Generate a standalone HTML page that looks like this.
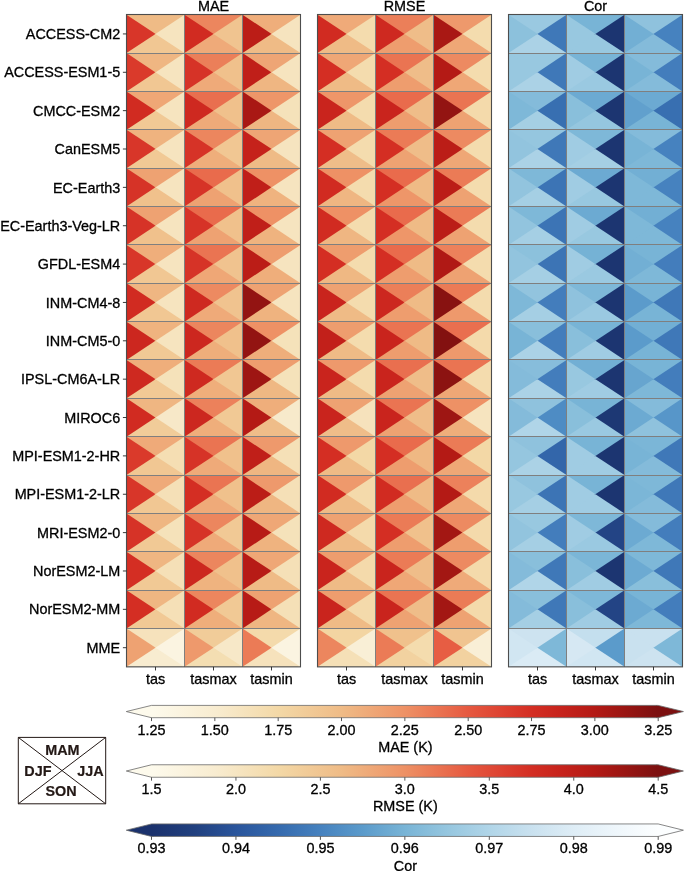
<!DOCTYPE html>
<html><head><meta charset="utf-8"><title>chart</title><style>svg text{stroke:#000;stroke-width:.3px}svg text.b{stroke:#231815;stroke-width:.2px}html,body{margin:0;padding:0;background:#fff}body{width:685px;height:871px;overflow:hidden}</style></head><body>
<svg width="685" height="871" viewBox="0 0 685 871" style="display:block;will-change:transform" font-family="Liberation Sans, sans-serif" font-size="14.4px" fill="#000">
<defs>
<linearGradient id="gr" x1="0" x2="1" y1="0" y2="0"><stop offset="0.0000" stop-color="#fdfaec"/><stop offset="0.1250" stop-color="#f8ecd0"/><stop offset="0.2500" stop-color="#f3d8a6"/><stop offset="0.3750" stop-color="#efbb86"/><stop offset="0.5000" stop-color="#ee9165"/><stop offset="0.6250" stop-color="#e65940"/><stop offset="0.6875" stop-color="#de4332"/><stop offset="0.7500" stop-color="#d42e23"/><stop offset="0.8125" stop-color="#c6221b"/><stop offset="0.8750" stop-color="#b41a15"/><stop offset="0.9375" stop-color="#991512"/><stop offset="1.0000" stop-color="#7c1010"/></linearGradient>
<linearGradient id="gb" x1="0" x2="1" y1="0" y2="0"><stop offset="0.0000" stop-color="#1b326d"/><stop offset="0.0833" stop-color="#21407f"/><stop offset="0.1667" stop-color="#2a559c"/><stop offset="0.2500" stop-color="#356aae"/><stop offset="0.3333" stop-color="#4682bf"/><stop offset="0.4167" stop-color="#5b9bcb"/><stop offset="0.5000" stop-color="#78b4d6"/><stop offset="0.5833" stop-color="#95c6df"/><stop offset="0.6667" stop-color="#b0d5e8"/><stop offset="0.7500" stop-color="#c9e1ef"/><stop offset="0.8333" stop-color="#deedf6"/><stop offset="0.9167" stop-color="#eef6fb"/><stop offset="1.0000" stop-color="#fcfeff"/></linearGradient>
</defs>
<rect width="685" height="871" fill="#fff"/>
<rect x="126.50" y="14.75" width="174.00" height="652.12" fill="#7f7f7f"/>
<g>
<path d="M126.50 14.75H128.31L157.31 33.93L128.31 53.11H126.50Z" fill="#d83629"/>
<path d="M126.50 14.75H184.50V15.95L156.41 34.53Z" fill="#efbb86"/>
<path d="M184.50 14.75V53.11H182.69L154.59 34.53Z" fill="#f6e4bf"/>
<path d="M126.50 53.11L155.50 33.93L184.50 53.11Z" fill="#f1c793"/>
<path d="M184.50 14.75H186.31L215.31 33.93L186.31 53.11H184.50Z" fill="#d12b21"/>
<path d="M184.50 14.75H242.50V15.95L214.41 34.53Z" fill="#ec865e"/>
<path d="M242.50 14.75V53.11H240.69L212.59 34.53Z" fill="#f0c490"/>
<path d="M184.50 53.11L213.50 33.93L242.50 53.11Z" fill="#efaa79"/>
<path d="M242.50 14.75H244.31L273.31 33.93L244.31 53.11H242.50Z" fill="#bb1d17"/>
<path d="M242.50 14.75H300.50V15.95L272.41 34.53Z" fill="#efae7b"/>
<path d="M300.50 14.75V53.11H298.69L270.59 34.53Z" fill="#f6e4bf"/>
<path d="M242.50 53.11L271.50 33.93L300.50 53.11Z" fill="#efbb86"/>
<path d="M126.50 53.11H128.31L157.31 72.29L128.31 91.47H126.50Z" fill="#da3a2b"/>
<path d="M126.50 53.11H184.50V54.31L156.41 72.89Z" fill="#efb682"/>
<path d="M184.50 53.11V91.47H182.69L154.59 72.89Z" fill="#f6e4bf"/>
<path d="M126.50 91.47L155.50 72.29L184.50 91.47Z" fill="#f1c793"/>
<path d="M184.50 53.11H186.31L215.31 72.29L186.31 91.47H184.50Z" fill="#d63327"/>
<path d="M184.50 53.11H242.50V54.31L214.41 72.89Z" fill="#eb7f59"/>
<path d="M242.50 53.11V91.47H240.69L212.59 72.89Z" fill="#f0c18c"/>
<path d="M184.50 91.47L213.50 72.29L242.50 91.47Z" fill="#efaa79"/>
<path d="M242.50 53.11H244.31L273.31 72.29L244.31 91.47H242.50Z" fill="#c01f19"/>
<path d="M242.50 53.11H300.50V54.31L272.41 72.89Z" fill="#eea575"/>
<path d="M300.50 53.11V91.47H298.69L270.59 72.89Z" fill="#f6e4bf"/>
<path d="M242.50 91.47L271.50 72.29L300.50 91.47Z" fill="#efb682"/>
<path d="M126.50 91.47H128.31L157.31 110.65L128.31 129.83H126.50Z" fill="#d12b21"/>
<path d="M126.50 91.47H184.50V92.67L156.41 111.25Z" fill="#efa776"/>
<path d="M184.50 91.47V129.83H182.69L154.59 111.25Z" fill="#f6e4bf"/>
<path d="M126.50 129.83L155.50 110.65L184.50 129.83Z" fill="#f1c995"/>
<path d="M184.50 91.47H186.31L215.31 110.65L186.31 129.83H184.50Z" fill="#ce2920"/>
<path d="M184.50 91.47H242.50V92.67L214.41 111.25Z" fill="#e96f4f"/>
<path d="M242.50 91.47V129.83H240.69L212.59 111.25Z" fill="#f0c18c"/>
<path d="M184.50 129.83L213.50 110.65L242.50 129.83Z" fill="#efaa79"/>
<path d="M242.50 91.47H244.31L273.31 110.65L244.31 129.83H242.50Z" fill="#a91814"/>
<path d="M242.50 91.47H300.50V92.67L272.41 111.25Z" fill="#ee9669"/>
<path d="M300.50 91.47V129.83H298.69L270.59 111.25Z" fill="#f5e2ba"/>
<path d="M242.50 129.83L271.50 110.65L300.50 129.83Z" fill="#efb682"/>
<path d="M126.50 129.83H128.31L157.31 149.01L128.31 168.19H126.50Z" fill="#d83629"/>
<path d="M126.50 129.83H184.50V131.03L156.41 149.61Z" fill="#efb37f"/>
<path d="M184.50 129.83V168.19H182.69L154.59 149.61Z" fill="#f6e4bf"/>
<path d="M126.50 168.19L155.50 149.01L184.50 168.19Z" fill="#f1c995"/>
<path d="M184.50 129.83H186.31L215.31 149.01L186.31 168.19H184.50Z" fill="#d63327"/>
<path d="M184.50 129.83H242.50V131.03L214.41 149.61Z" fill="#ec865e"/>
<path d="M242.50 129.83V168.19H240.69L212.59 149.61Z" fill="#f1c793"/>
<path d="M184.50 168.19L213.50 149.01L242.50 168.19Z" fill="#efae7b"/>
<path d="M242.50 129.83H244.31L273.31 149.01L244.31 168.19H242.50Z" fill="#c5221b"/>
<path d="M242.50 129.83H300.50V131.03L272.41 149.61Z" fill="#eea575"/>
<path d="M300.50 129.83V168.19H298.69L270.59 149.61Z" fill="#f6e4bf"/>
<path d="M242.50 168.19L271.50 149.01L300.50 168.19Z" fill="#efbb86"/>
<path d="M126.50 168.19H128.31L157.31 187.37L128.31 206.55H126.50Z" fill="#d63327"/>
<path d="M126.50 168.19H184.50V169.39L156.41 187.97Z" fill="#eea272"/>
<path d="M184.50 168.19V206.55H182.69L154.59 187.97Z" fill="#f6e4bf"/>
<path d="M126.50 206.55L155.50 187.37L184.50 206.55Z" fill="#f0c18c"/>
<path d="M184.50 168.19H186.31L215.31 187.37L186.31 206.55H184.50Z" fill="#d63327"/>
<path d="M184.50 168.19H242.50V169.39L214.41 187.97Z" fill="#e96b4c"/>
<path d="M242.50 168.19V206.55H240.69L212.59 187.97Z" fill="#f0c18c"/>
<path d="M184.50 206.55L213.50 187.37L242.50 206.55Z" fill="#eea272"/>
<path d="M242.50 168.19H244.31L273.31 187.37L244.31 206.55H242.50Z" fill="#c01f19"/>
<path d="M242.50 168.19H300.50V169.39L272.41 187.97Z" fill="#ee9165"/>
<path d="M300.50 168.19V206.55H298.69L270.59 187.97Z" fill="#f6e4bf"/>
<path d="M242.50 206.55L271.50 187.37L300.50 206.55Z" fill="#efb37f"/>
<path d="M126.50 206.55H128.31L157.31 225.73L128.31 244.91H126.50Z" fill="#d63327"/>
<path d="M126.50 206.55H184.50V207.75L156.41 226.33Z" fill="#eea272"/>
<path d="M184.50 206.55V244.91H182.69L154.59 226.33Z" fill="#f6e4bf"/>
<path d="M126.50 244.91L155.50 225.73L184.50 244.91Z" fill="#f0c18c"/>
<path d="M184.50 206.55H186.31L215.31 225.73L186.31 244.91H184.50Z" fill="#d63327"/>
<path d="M184.50 206.55H242.50V207.75L214.41 226.33Z" fill="#e96b4c"/>
<path d="M242.50 206.55V244.91H240.69L212.59 226.33Z" fill="#f0c18c"/>
<path d="M184.50 244.91L213.50 225.73L242.50 244.91Z" fill="#eea272"/>
<path d="M242.50 206.55H244.31L273.31 225.73L244.31 244.91H242.50Z" fill="#c01f19"/>
<path d="M242.50 206.55H300.50V207.75L272.41 226.33Z" fill="#ee9165"/>
<path d="M300.50 206.55V244.91H298.69L270.59 226.33Z" fill="#f6e4bf"/>
<path d="M242.50 244.91L271.50 225.73L300.50 244.91Z" fill="#efb37f"/>
<path d="M126.50 244.91H128.31L157.31 264.09L128.31 283.27H126.50Z" fill="#d83629"/>
<path d="M126.50 244.91H184.50V246.11L156.41 264.69Z" fill="#efae7b"/>
<path d="M184.50 244.91V283.27H182.69L154.59 264.69Z" fill="#f6e4bf"/>
<path d="M126.50 283.27L155.50 264.09L184.50 283.27Z" fill="#f1c793"/>
<path d="M184.50 244.91H186.31L215.31 264.09L186.31 283.27H184.50Z" fill="#d63327"/>
<path d="M184.50 244.91H242.50V246.11L214.41 264.69Z" fill="#ea7452"/>
<path d="M242.50 244.91V283.27H240.69L212.59 264.69Z" fill="#f0c38f"/>
<path d="M184.50 283.27L213.50 264.09L242.50 283.27Z" fill="#efa776"/>
<path d="M242.50 244.91H244.31L273.31 264.09L244.31 283.27H242.50Z" fill="#bb1d17"/>
<path d="M242.50 244.91H300.50V246.11L272.41 264.69Z" fill="#ee9d6e"/>
<path d="M300.50 244.91V283.27H298.69L270.59 264.69Z" fill="#f6e4bf"/>
<path d="M242.50 283.27L271.50 264.09L300.50 283.27Z" fill="#efae7b"/>
<path d="M126.50 283.27H128.31L157.31 302.45L128.31 321.63H126.50Z" fill="#d12b21"/>
<path d="M126.50 283.27H184.50V284.47L156.41 303.05Z" fill="#efb682"/>
<path d="M184.50 283.27V321.63H182.69L154.59 303.05Z" fill="#f6e4bf"/>
<path d="M126.50 321.63L155.50 302.45L184.50 321.63Z" fill="#f1c793"/>
<path d="M184.50 283.27H186.31L215.31 302.45L186.31 321.63H184.50Z" fill="#ce2920"/>
<path d="M184.50 283.27H242.50V284.47L214.41 303.05Z" fill="#ed8a61"/>
<path d="M242.50 283.27V321.63H240.69L212.59 303.05Z" fill="#f0c38f"/>
<path d="M184.50 321.63L213.50 302.45L242.50 321.63Z" fill="#efaa79"/>
<path d="M242.50 283.27H244.31L273.31 302.45L244.31 321.63H242.50Z" fill="#931412"/>
<path d="M242.50 283.27H300.50V284.47L272.41 303.05Z" fill="#eea272"/>
<path d="M300.50 283.27V321.63H298.69L270.59 303.05Z" fill="#f6e4bf"/>
<path d="M242.50 321.63L271.50 302.45L300.50 321.63Z" fill="#efb37f"/>
<path d="M126.50 321.63H128.31L157.31 340.81L128.31 359.99H126.50Z" fill="#cc271f"/>
<path d="M126.50 321.63H184.50V322.83L156.41 341.41Z" fill="#efb37f"/>
<path d="M184.50 321.63V359.99H182.69L154.59 341.41Z" fill="#f6e4bf"/>
<path d="M126.50 359.99L155.50 340.81L184.50 359.99Z" fill="#f1c995"/>
<path d="M184.50 321.63H186.31L215.31 340.81L186.31 359.99H184.50Z" fill="#cc271f"/>
<path d="M184.50 321.63H242.50V322.83L214.41 341.41Z" fill="#ec865e"/>
<path d="M242.50 321.63V359.99H240.69L212.59 341.41Z" fill="#f0c18c"/>
<path d="M184.50 359.99L213.50 340.81L242.50 359.99Z" fill="#efae7b"/>
<path d="M242.50 321.63H244.31L273.31 340.81L244.31 359.99H242.50Z" fill="#931412"/>
<path d="M242.50 321.63H300.50V322.83L272.41 341.41Z" fill="#ee9165"/>
<path d="M300.50 321.63V359.99H298.69L270.59 341.41Z" fill="#f5e2ba"/>
<path d="M242.50 359.99L271.50 340.81L300.50 359.99Z" fill="#efae7b"/>
<path d="M126.50 359.99H128.31L157.31 379.17L128.31 398.35H126.50Z" fill="#ce2920"/>
<path d="M126.50 359.99H184.50V361.19L156.41 379.77Z" fill="#efae7b"/>
<path d="M184.50 359.99V398.35H182.69L154.59 379.77Z" fill="#f5e2ba"/>
<path d="M126.50 398.35L155.50 379.17L184.50 398.35Z" fill="#f1c995"/>
<path d="M184.50 359.99H186.31L215.31 379.17L186.31 398.35H184.50Z" fill="#ce2920"/>
<path d="M184.50 359.99H242.50V361.19L214.41 379.77Z" fill="#eb7b56"/>
<path d="M242.50 359.99V398.35H240.69L212.59 379.77Z" fill="#f1c793"/>
<path d="M184.50 398.35L213.50 379.17L242.50 398.35Z" fill="#efae7b"/>
<path d="M242.50 359.99H244.31L273.31 379.17L244.31 398.35H242.50Z" fill="#9e1613"/>
<path d="M242.50 359.99H300.50V361.19L272.41 379.77Z" fill="#ee9d6e"/>
<path d="M300.50 359.99V398.35H298.69L270.59 379.77Z" fill="#f5e2ba"/>
<path d="M242.50 398.35L271.50 379.17L300.50 398.35Z" fill="#efb883"/>
<path d="M126.50 398.35H128.31L157.31 417.53L128.31 436.71H126.50Z" fill="#d12b21"/>
<path d="M126.50 398.35H184.50V399.55L156.41 418.13Z" fill="#efb682"/>
<path d="M184.50 398.35V436.71H182.69L154.59 418.13Z" fill="#f7e8c8"/>
<path d="M126.50 436.71L155.50 417.53L184.50 436.71Z" fill="#f1cc99"/>
<path d="M184.50 398.35H186.31L215.31 417.53L186.31 436.71H184.50Z" fill="#cc271f"/>
<path d="M184.50 398.35H242.50V399.55L214.41 418.13Z" fill="#ec815b"/>
<path d="M242.50 398.35V436.71H240.69L212.59 418.13Z" fill="#f1c995"/>
<path d="M184.50 436.71L213.50 417.53L242.50 436.71Z" fill="#efae7b"/>
<path d="M242.50 398.35H244.31L273.31 417.53L244.31 436.71H242.50Z" fill="#b41a15"/>
<path d="M242.50 398.35H300.50V399.55L272.41 418.13Z" fill="#efae7b"/>
<path d="M300.50 398.35V436.71H298.69L270.59 418.13Z" fill="#f7eacb"/>
<path d="M242.50 436.71L271.50 417.53L300.50 436.71Z" fill="#efbd89"/>
<path d="M126.50 436.71H128.31L157.31 455.89L128.31 475.07H126.50Z" fill="#da3a2b"/>
<path d="M126.50 436.71H184.50V437.91L156.41 456.49Z" fill="#efaa79"/>
<path d="M184.50 436.71V475.07H182.69L154.59 456.49Z" fill="#f5deb3"/>
<path d="M126.50 475.07L155.50 455.89L184.50 475.07Z" fill="#f1c793"/>
<path d="M184.50 436.71H186.31L215.31 455.89L186.31 475.07H184.50Z" fill="#d63327"/>
<path d="M184.50 436.71H242.50V437.91L214.41 456.49Z" fill="#ea7452"/>
<path d="M242.50 436.71V475.07H240.69L212.59 456.49Z" fill="#f0c18c"/>
<path d="M184.50 475.07L213.50 455.89L242.50 475.07Z" fill="#efaa79"/>
<path d="M242.50 436.71H244.31L273.31 455.89L244.31 475.07H242.50Z" fill="#c01f19"/>
<path d="M242.50 436.71H300.50V437.91L272.41 456.49Z" fill="#ee996c"/>
<path d="M300.50 436.71V475.07H298.69L270.59 456.49Z" fill="#f5e0b7"/>
<path d="M242.50 475.07L271.50 455.89L300.50 475.07Z" fill="#efb682"/>
<path d="M126.50 475.07H128.31L157.31 494.25L128.31 513.43H126.50Z" fill="#d83629"/>
<path d="M126.50 475.07H184.50V476.27L156.41 494.85Z" fill="#efaa79"/>
<path d="M184.50 475.07V513.43H182.69L154.59 494.85Z" fill="#f5e0b7"/>
<path d="M126.50 513.43L155.50 494.25L184.50 513.43Z" fill="#f1c793"/>
<path d="M184.50 475.07H186.31L215.31 494.25L186.31 513.43H184.50Z" fill="#d42e23"/>
<path d="M184.50 475.07H242.50V476.27L214.41 494.85Z" fill="#ea7452"/>
<path d="M242.50 475.07V513.43H240.69L212.59 494.85Z" fill="#f0c18c"/>
<path d="M184.50 513.43L213.50 494.25L242.50 513.43Z" fill="#efaa79"/>
<path d="M242.50 475.07H244.31L273.31 494.25L244.31 513.43H242.50Z" fill="#bb1d17"/>
<path d="M242.50 475.07H300.50V476.27L272.41 494.85Z" fill="#ee996c"/>
<path d="M300.50 475.07V513.43H298.69L270.59 494.85Z" fill="#f5e0b7"/>
<path d="M242.50 513.43L271.50 494.25L300.50 513.43Z" fill="#efb682"/>
<path d="M126.50 513.43H128.31L157.31 532.61L128.31 551.79H126.50Z" fill="#d63327"/>
<path d="M126.50 513.43H184.50V514.63L156.41 533.21Z" fill="#efb682"/>
<path d="M184.50 513.43V551.79H182.69L154.59 533.21Z" fill="#f5e2ba"/>
<path d="M126.50 551.79L155.50 532.61L184.50 551.79Z" fill="#f1c995"/>
<path d="M184.50 513.43H186.31L215.31 532.61L186.31 551.79H184.50Z" fill="#d63327"/>
<path d="M184.50 513.43H242.50V514.63L214.41 533.21Z" fill="#ec865e"/>
<path d="M242.50 513.43V551.79H240.69L212.59 533.21Z" fill="#f1c995"/>
<path d="M184.50 551.79L213.50 532.61L242.50 551.79Z" fill="#efaa79"/>
<path d="M242.50 513.43H244.31L273.31 532.61L244.31 551.79H242.50Z" fill="#b71b16"/>
<path d="M242.50 513.43H300.50V514.63L272.41 533.21Z" fill="#efa776"/>
<path d="M300.50 513.43V551.79H298.69L270.59 533.21Z" fill="#f5e2ba"/>
<path d="M242.50 551.79L271.50 532.61L300.50 551.79Z" fill="#efb37f"/>
<path d="M126.50 551.79H128.31L157.31 570.97L128.31 590.15H126.50Z" fill="#d42e23"/>
<path d="M126.50 551.79H184.50V552.99L156.41 571.57Z" fill="#efb682"/>
<path d="M184.50 551.79V590.15H182.69L154.59 571.57Z" fill="#f5e0b7"/>
<path d="M126.50 590.15L155.50 570.97L184.50 590.15Z" fill="#f1c995"/>
<path d="M184.50 551.79H186.31L215.31 570.97L186.31 590.15H184.50Z" fill="#cc271f"/>
<path d="M184.50 551.79H242.50V552.99L214.41 571.57Z" fill="#ec865e"/>
<path d="M242.50 551.79V590.15H240.69L212.59 571.57Z" fill="#f0c18c"/>
<path d="M184.50 590.15L213.50 570.97L242.50 590.15Z" fill="#efb37f"/>
<path d="M242.50 551.79H244.31L273.31 570.97L244.31 590.15H242.50Z" fill="#b71b16"/>
<path d="M242.50 551.79H300.50V552.99L272.41 571.57Z" fill="#efa776"/>
<path d="M300.50 551.79V590.15H298.69L270.59 571.57Z" fill="#f5e0b7"/>
<path d="M242.50 590.15L271.50 570.97L300.50 590.15Z" fill="#efbb86"/>
<path d="M126.50 590.15H128.31L157.31 609.33L128.31 628.51H126.50Z" fill="#d42e23"/>
<path d="M126.50 590.15H184.50V591.35L156.41 609.93Z" fill="#efb682"/>
<path d="M184.50 590.15V628.51H182.69L154.59 609.93Z" fill="#f5e0b7"/>
<path d="M126.50 628.51L155.50 609.33L184.50 628.51Z" fill="#f1c995"/>
<path d="M184.50 590.15H186.31L215.31 609.33L186.31 628.51H184.50Z" fill="#d12b21"/>
<path d="M184.50 590.15H242.50V591.35L214.41 609.93Z" fill="#ec865e"/>
<path d="M242.50 590.15V628.51H240.69L212.59 609.93Z" fill="#f1c995"/>
<path d="M184.50 628.51L213.50 609.33L242.50 628.51Z" fill="#efae7b"/>
<path d="M242.50 590.15H244.31L273.31 609.33L244.31 628.51H242.50Z" fill="#b71b16"/>
<path d="M242.50 590.15H300.50V591.35L272.41 609.93Z" fill="#eea272"/>
<path d="M300.50 590.15V628.51H298.69L270.59 609.93Z" fill="#f5e0b7"/>
<path d="M242.50 628.51L271.50 609.33L300.50 628.51Z" fill="#efb682"/>
<path d="M126.50 628.51H128.31L157.31 647.69L128.31 666.87H126.50Z" fill="#eea272"/>
<path d="M126.50 628.51H184.50V629.71L156.41 648.29Z" fill="#f6e2bc"/>
<path d="M184.50 628.51V666.87H182.69L154.59 648.29Z" fill="#fbf4e1"/>
<path d="M126.50 666.87L155.50 647.69L184.50 666.87Z" fill="#f8ecd0"/>
<path d="M184.50 628.51H186.31L215.31 647.69L186.31 666.87H184.50Z" fill="#ee996c"/>
<path d="M184.50 628.51H242.50V629.71L214.41 648.29Z" fill="#f1cc99"/>
<path d="M242.50 628.51V666.87H240.69L212.59 648.29Z" fill="#f7e8c8"/>
<path d="M184.50 666.87L213.50 647.69L242.50 666.87Z" fill="#f4deb2"/>
<path d="M242.50 628.51H244.31L273.31 647.69L244.31 666.87H242.50Z" fill="#eb7b56"/>
<path d="M242.50 628.51H300.50V629.71L272.41 648.29Z" fill="#f4daab"/>
<path d="M300.50 628.51V666.87H298.69L270.59 648.29Z" fill="#fbf4e1"/>
<path d="M242.50 666.87L271.50 647.69L300.50 666.87Z" fill="#f6e2bc"/>
</g>
<path d="M126.50 53.50H300.50M126.50 91.50H300.50M126.50 129.50H300.50M126.50 168.50H300.50M126.50 206.50H300.50M126.50 244.50H300.50M126.50 283.50H300.50M126.50 321.50H300.50M126.50 359.50H300.50M126.50 398.50H300.50M126.50 436.50H300.50M126.50 475.50H300.50M126.50 513.50H300.50M126.50 551.50H300.50M126.50 590.50H300.50M126.50 628.50H300.50M184.50 14.75V666.87M242.50 14.75V666.87" stroke="#7f7f7f" stroke-width="1" fill="none"/>
<rect x="126.50" y="14.50" width="174.00" height="652.37" fill="none" stroke="#4d4d4d" stroke-width="1.1"/>
<text x="213.50" y="11" text-anchor="middle">MAE</text>
<text x="155.50" y="683.7" text-anchor="middle">tas</text>
<text x="213.50" y="683.7" text-anchor="middle">tasmax</text>
<text x="271.50" y="683.7" text-anchor="middle">tasmin</text>
<path d="M155.50 666.87v3.6M213.50 666.87v3.6M271.50 666.87v3.6" stroke="#222" stroke-width="0.9" fill="none"/>
<rect x="317.50" y="14.75" width="174.00" height="652.12" fill="#7f7f7f"/>
<g>
<path d="M317.50 14.75H319.31L348.31 33.93L319.31 53.11H317.50Z" fill="#d12b21"/>
<path d="M317.50 14.75H375.50V15.95L347.41 34.53Z" fill="#efaa79"/>
<path d="M375.50 14.75V53.11H373.69L345.59 34.53Z" fill="#f4dcae"/>
<path d="M317.50 53.11L346.50 33.93L375.50 53.11Z" fill="#efbb86"/>
<path d="M375.50 14.75H377.31L406.31 33.93L377.31 53.11H375.50Z" fill="#ce2920"/>
<path d="M375.50 14.75H433.50V15.95L405.41 34.53Z" fill="#eb7f59"/>
<path d="M433.50 14.75V53.11H431.69L403.59 34.53Z" fill="#efbd89"/>
<path d="M375.50 53.11L404.50 33.93L433.50 53.11Z" fill="#ee9d6e"/>
<path d="M433.50 14.75H435.31L464.31 33.93L435.31 53.11H433.50Z" fill="#a91814"/>
<path d="M433.50 14.75H491.50V15.95L463.41 34.53Z" fill="#ee996c"/>
<path d="M491.50 14.75V53.11H489.69L461.59 34.53Z" fill="#f4dcae"/>
<path d="M433.50 53.11L462.50 33.93L491.50 53.11Z" fill="#efa776"/>
<path d="M317.50 53.11H319.31L348.31 72.29L319.31 91.47H317.50Z" fill="#d42e23"/>
<path d="M317.50 53.11H375.50V54.31L347.41 72.89Z" fill="#efa776"/>
<path d="M375.50 53.11V91.47H373.69L345.59 72.89Z" fill="#f4dcae"/>
<path d="M317.50 91.47L346.50 72.29L375.50 91.47Z" fill="#efbb86"/>
<path d="M375.50 53.11H377.31L406.31 72.29L377.31 91.47H375.50Z" fill="#d42e23"/>
<path d="M375.50 53.11H433.50V54.31L405.41 72.89Z" fill="#ea7452"/>
<path d="M433.50 53.11V91.47H431.69L403.59 72.89Z" fill="#efbd89"/>
<path d="M375.50 91.47L404.50 72.29L433.50 91.47Z" fill="#ee9d6e"/>
<path d="M433.50 53.11H435.31L464.31 72.29L435.31 91.47H433.50Z" fill="#b41a15"/>
<path d="M433.50 53.11H491.50V54.31L463.41 72.89Z" fill="#ed8a61"/>
<path d="M491.50 53.11V91.47H489.69L461.59 72.89Z" fill="#f4dcae"/>
<path d="M433.50 91.47L462.50 72.29L491.50 91.47Z" fill="#efa776"/>
<path d="M317.50 91.47H319.31L348.31 110.65L319.31 129.83H317.50Z" fill="#c9241d"/>
<path d="M317.50 91.47H375.50V92.67L347.41 111.25Z" fill="#ee9669"/>
<path d="M375.50 91.47V129.83H373.69L345.59 111.25Z" fill="#f4dcae"/>
<path d="M317.50 129.83L346.50 110.65L375.50 129.83Z" fill="#efbb86"/>
<path d="M375.50 91.47H377.31L406.31 110.65L377.31 129.83H375.50Z" fill="#c9241d"/>
<path d="M375.50 91.47H433.50V92.67L405.41 111.25Z" fill="#e96b4c"/>
<path d="M433.50 91.47V129.83H431.69L403.59 111.25Z" fill="#efbd89"/>
<path d="M375.50 129.83L404.50 110.65L433.50 129.83Z" fill="#ee9d6e"/>
<path d="M433.50 91.47H435.31L464.31 110.65L435.31 129.83H433.50Z" fill="#931412"/>
<path d="M433.50 91.47H491.50V92.67L463.41 111.25Z" fill="#ea7452"/>
<path d="M491.50 91.47V129.83H489.69L461.59 111.25Z" fill="#f4daab"/>
<path d="M433.50 129.83L462.50 110.65L491.50 129.83Z" fill="#eea272"/>
<path d="M317.50 129.83H319.31L348.31 149.01L319.31 168.19H317.50Z" fill="#d42e23"/>
<path d="M317.50 129.83H375.50V131.03L347.41 149.61Z" fill="#eea272"/>
<path d="M375.50 129.83V168.19H373.69L345.59 149.61Z" fill="#f4dcae"/>
<path d="M317.50 168.19L346.50 149.01L375.50 168.19Z" fill="#efbd89"/>
<path d="M375.50 129.83H377.31L406.31 149.01L377.31 168.19H375.50Z" fill="#d42e23"/>
<path d="M375.50 129.83H433.50V131.03L405.41 149.61Z" fill="#eb7b56"/>
<path d="M433.50 129.83V168.19H431.69L403.59 149.61Z" fill="#efbd89"/>
<path d="M375.50 168.19L404.50 149.01L433.50 168.19Z" fill="#eea272"/>
<path d="M433.50 129.83H435.31L464.31 149.01L435.31 168.19H433.50Z" fill="#bb1d17"/>
<path d="M433.50 129.83H491.50V131.03L463.41 149.61Z" fill="#ed8a61"/>
<path d="M491.50 129.83V168.19H489.69L461.59 149.61Z" fill="#f4dcae"/>
<path d="M433.50 168.19L462.50 149.01L491.50 168.19Z" fill="#efa776"/>
<path d="M317.50 168.19H319.31L348.31 187.37L319.31 206.55H317.50Z" fill="#d12b21"/>
<path d="M317.50 168.19H375.50V169.39L347.41 187.97Z" fill="#ee9165"/>
<path d="M375.50 168.19V206.55H373.69L345.59 187.97Z" fill="#f4dcae"/>
<path d="M317.50 206.55L346.50 187.37L375.50 206.55Z" fill="#efb682"/>
<path d="M375.50 168.19H377.31L406.31 187.37L377.31 206.55H375.50Z" fill="#d42e23"/>
<path d="M375.50 168.19H433.50V169.39L405.41 187.97Z" fill="#e96b4c"/>
<path d="M433.50 168.19V206.55H431.69L403.59 187.97Z" fill="#efbb86"/>
<path d="M375.50 206.55L404.50 187.37L433.50 206.55Z" fill="#ee9669"/>
<path d="M433.50 168.19H435.31L464.31 187.37L435.31 206.55H433.50Z" fill="#bb1d17"/>
<path d="M433.50 168.19H491.50V169.39L463.41 187.97Z" fill="#eb7b56"/>
<path d="M491.50 168.19V206.55H489.69L461.59 187.97Z" fill="#f4dcae"/>
<path d="M433.50 206.55L462.50 187.37L491.50 206.55Z" fill="#eea272"/>
<path d="M317.50 206.55H319.31L348.31 225.73L319.31 244.91H317.50Z" fill="#d12b21"/>
<path d="M317.50 206.55H375.50V207.75L347.41 226.33Z" fill="#ee9165"/>
<path d="M375.50 206.55V244.91H373.69L345.59 226.33Z" fill="#f4dcae"/>
<path d="M317.50 244.91L346.50 225.73L375.50 244.91Z" fill="#efb682"/>
<path d="M375.50 206.55H377.31L406.31 225.73L377.31 244.91H375.50Z" fill="#d42e23"/>
<path d="M375.50 206.55H433.50V207.75L405.41 226.33Z" fill="#e96b4c"/>
<path d="M433.50 206.55V244.91H431.69L403.59 226.33Z" fill="#efbb86"/>
<path d="M375.50 244.91L404.50 225.73L433.50 244.91Z" fill="#ee9669"/>
<path d="M433.50 206.55H435.31L464.31 225.73L435.31 244.91H433.50Z" fill="#bb1d17"/>
<path d="M433.50 206.55H491.50V207.75L463.41 226.33Z" fill="#eb7b56"/>
<path d="M491.50 206.55V244.91H489.69L461.59 226.33Z" fill="#f4dcae"/>
<path d="M433.50 244.91L462.50 225.73L491.50 244.91Z" fill="#eea272"/>
<path d="M317.50 244.91H319.31L348.31 264.09L319.31 283.27H317.50Z" fill="#d42e23"/>
<path d="M317.50 244.91H375.50V246.11L347.41 264.69Z" fill="#ee9d6e"/>
<path d="M375.50 244.91V283.27H373.69L345.59 264.69Z" fill="#f4dcae"/>
<path d="M317.50 283.27L346.50 264.09L375.50 283.27Z" fill="#efb883"/>
<path d="M375.50 244.91H377.31L406.31 264.09L377.31 283.27H375.50Z" fill="#d42e23"/>
<path d="M375.50 244.91H433.50V246.11L405.41 264.69Z" fill="#e96b4c"/>
<path d="M433.50 244.91V283.27H431.69L403.59 264.69Z" fill="#efbb86"/>
<path d="M375.50 283.27L404.50 264.09L433.50 283.27Z" fill="#ee9d6e"/>
<path d="M433.50 244.91H435.31L464.31 264.09L435.31 283.27H433.50Z" fill="#b01915"/>
<path d="M433.50 244.91H491.50V246.11L463.41 264.69Z" fill="#ec815b"/>
<path d="M491.50 244.91V283.27H489.69L461.59 264.69Z" fill="#f4dcae"/>
<path d="M433.50 283.27L462.50 264.09L491.50 283.27Z" fill="#eea272"/>
<path d="M317.50 283.27H319.31L348.31 302.45L319.31 321.63H317.50Z" fill="#c9241d"/>
<path d="M317.50 283.27H375.50V284.47L347.41 303.05Z" fill="#eea272"/>
<path d="M375.50 283.27V321.63H373.69L345.59 303.05Z" fill="#f4dcae"/>
<path d="M317.50 321.63L346.50 302.45L375.50 321.63Z" fill="#efbb86"/>
<path d="M375.50 283.27H377.31L406.31 302.45L377.31 321.63H375.50Z" fill="#cc271f"/>
<path d="M375.50 283.27H433.50V284.47L405.41 303.05Z" fill="#eb7f59"/>
<path d="M433.50 283.27V321.63H431.69L403.59 303.05Z" fill="#efbb86"/>
<path d="M375.50 321.63L404.50 302.45L433.50 321.63Z" fill="#ee9d6e"/>
<path d="M433.50 283.27H435.31L464.31 302.45L435.31 321.63H433.50Z" fill="#881211"/>
<path d="M433.50 283.27H491.50V284.47L463.41 303.05Z" fill="#eb7b56"/>
<path d="M491.50 283.27V321.63H489.69L461.59 303.05Z" fill="#f4dcae"/>
<path d="M433.50 321.63L462.50 302.45L491.50 321.63Z" fill="#ee996c"/>
<path d="M317.50 321.63H319.31L348.31 340.81L319.31 359.99H317.50Z" fill="#c2201a"/>
<path d="M317.50 321.63H375.50V322.83L347.41 341.41Z" fill="#ee9d6e"/>
<path d="M375.50 321.63V359.99H373.69L345.59 341.41Z" fill="#f4dcae"/>
<path d="M317.50 359.99L346.50 340.81L375.50 359.99Z" fill="#efbb86"/>
<path d="M375.50 321.63H377.31L406.31 340.81L377.31 359.99H375.50Z" fill="#c9241d"/>
<path d="M375.50 321.63H433.50V322.83L405.41 341.41Z" fill="#ea7452"/>
<path d="M433.50 321.63V359.99H431.69L403.59 341.41Z" fill="#efbb86"/>
<path d="M375.50 359.99L404.50 340.81L433.50 359.99Z" fill="#ee9d6e"/>
<path d="M433.50 321.63H435.31L464.31 340.81L435.31 359.99H433.50Z" fill="#831110"/>
<path d="M433.50 321.63H491.50V322.83L463.41 341.41Z" fill="#e96f4f"/>
<path d="M491.50 321.63V359.99H489.69L461.59 341.41Z" fill="#f4daab"/>
<path d="M433.50 359.99L462.50 340.81L491.50 359.99Z" fill="#ee996c"/>
<path d="M317.50 359.99H319.31L348.31 379.17L319.31 398.35H317.50Z" fill="#c9241d"/>
<path d="M317.50 359.99H375.50V361.19L347.41 379.77Z" fill="#ee996c"/>
<path d="M375.50 359.99V398.35H373.69L345.59 379.77Z" fill="#f4dcae"/>
<path d="M317.50 398.35L346.50 379.17L375.50 398.35Z" fill="#efbb86"/>
<path d="M375.50 359.99H377.31L406.31 379.17L377.31 398.35H375.50Z" fill="#c9241d"/>
<path d="M375.50 359.99H433.50V361.19L405.41 379.77Z" fill="#e96f4f"/>
<path d="M433.50 359.99V398.35H431.69L403.59 379.77Z" fill="#efbd89"/>
<path d="M375.50 398.35L404.50 379.17L433.50 398.35Z" fill="#eea272"/>
<path d="M433.50 359.99H435.31L464.31 379.17L435.31 398.35H433.50Z" fill="#8c1311"/>
<path d="M433.50 359.99H491.50V361.19L463.41 379.77Z" fill="#ea7452"/>
<path d="M491.50 359.99V398.35H489.69L461.59 379.77Z" fill="#f4dcae"/>
<path d="M433.50 398.35L462.50 379.17L491.50 398.35Z" fill="#efa776"/>
<path d="M317.50 398.35H319.31L348.31 417.53L319.31 436.71H317.50Z" fill="#c9241d"/>
<path d="M317.50 398.35H375.50V399.55L347.41 418.13Z" fill="#eea272"/>
<path d="M375.50 398.35V436.71H373.69L345.59 418.13Z" fill="#f6e2bc"/>
<path d="M317.50 436.71L346.50 417.53L375.50 436.71Z" fill="#efbd89"/>
<path d="M375.50 398.35H377.31L406.31 417.53L377.31 436.71H375.50Z" fill="#c9241d"/>
<path d="M375.50 398.35H433.50V399.55L405.41 418.13Z" fill="#ea7452"/>
<path d="M433.50 398.35V436.71H431.69L403.59 418.13Z" fill="#efbd89"/>
<path d="M375.50 436.71L404.50 417.53L433.50 436.71Z" fill="#eea272"/>
<path d="M433.50 398.35H435.31L464.31 417.53L435.31 436.71H433.50Z" fill="#9e1613"/>
<path d="M433.50 398.35H491.50V399.55L463.41 418.13Z" fill="#ee9165"/>
<path d="M491.50 398.35V436.71H489.69L461.59 418.13Z" fill="#f6e4bf"/>
<path d="M433.50 436.71L462.50 417.53L491.50 436.71Z" fill="#efae7b"/>
<path d="M317.50 436.71H319.31L348.31 455.89L319.31 475.07H317.50Z" fill="#d42e23"/>
<path d="M317.50 436.71H375.50V437.91L347.41 456.49Z" fill="#ee996c"/>
<path d="M375.50 436.71V475.07H373.69L345.59 456.49Z" fill="#f3d8a6"/>
<path d="M317.50 475.07L346.50 455.89L375.50 475.07Z" fill="#efbb86"/>
<path d="M375.50 436.71H377.31L406.31 455.89L377.31 475.07H375.50Z" fill="#d42e23"/>
<path d="M375.50 436.71H433.50V437.91L405.41 456.49Z" fill="#e96b4c"/>
<path d="M433.50 436.71V475.07H431.69L403.59 456.49Z" fill="#efb883"/>
<path d="M375.50 475.07L404.50 455.89L433.50 475.07Z" fill="#ee9d6e"/>
<path d="M433.50 436.71H435.31L464.31 455.89L435.31 475.07H433.50Z" fill="#b41a15"/>
<path d="M433.50 436.71H491.50V437.91L463.41 456.49Z" fill="#eb7b56"/>
<path d="M491.50 436.71V475.07H489.69L461.59 456.49Z" fill="#f3d8a6"/>
<path d="M433.50 475.07L462.50 455.89L491.50 475.07Z" fill="#efa776"/>
<path d="M317.50 475.07H319.31L348.31 494.25L319.31 513.43H317.50Z" fill="#d12b21"/>
<path d="M317.50 475.07H375.50V476.27L347.41 494.85Z" fill="#ee996c"/>
<path d="M375.50 475.07V513.43H373.69L345.59 494.85Z" fill="#f4daab"/>
<path d="M317.50 513.43L346.50 494.25L375.50 513.43Z" fill="#efbb86"/>
<path d="M375.50 475.07H377.31L406.31 494.25L377.31 513.43H375.50Z" fill="#d12b21"/>
<path d="M375.50 475.07H433.50V476.27L405.41 494.85Z" fill="#e96f4f"/>
<path d="M433.50 475.07V513.43H431.69L403.59 494.85Z" fill="#efbb86"/>
<path d="M375.50 513.43L404.50 494.25L433.50 513.43Z" fill="#ee9d6e"/>
<path d="M433.50 475.07H435.31L464.31 494.25L435.31 513.43H433.50Z" fill="#b41a15"/>
<path d="M433.50 475.07H491.50V476.27L463.41 494.85Z" fill="#ec815b"/>
<path d="M491.50 475.07V513.43H489.69L461.59 494.85Z" fill="#f4daab"/>
<path d="M433.50 513.43L462.50 494.25L491.50 513.43Z" fill="#efa776"/>
<path d="M317.50 513.43H319.31L348.31 532.61L319.31 551.79H317.50Z" fill="#ce2920"/>
<path d="M317.50 513.43H375.50V514.63L347.41 533.21Z" fill="#eea272"/>
<path d="M375.50 513.43V551.79H373.69L345.59 533.21Z" fill="#f4daab"/>
<path d="M317.50 551.79L346.50 532.61L375.50 551.79Z" fill="#efbb86"/>
<path d="M375.50 513.43H377.31L406.31 532.61L377.31 551.79H375.50Z" fill="#d42e23"/>
<path d="M375.50 513.43H433.50V514.63L405.41 533.21Z" fill="#eb7b56"/>
<path d="M433.50 513.43V551.79H431.69L403.59 533.21Z" fill="#f0c18c"/>
<path d="M375.50 551.79L404.50 532.61L433.50 551.79Z" fill="#ee9d6e"/>
<path d="M433.50 513.43H435.31L464.31 532.61L435.31 551.79H433.50Z" fill="#a31713"/>
<path d="M433.50 513.43H491.50V514.63L463.41 533.21Z" fill="#ed8a61"/>
<path d="M491.50 513.43V551.79H489.69L461.59 533.21Z" fill="#f4daab"/>
<path d="M433.50 551.79L462.50 532.61L491.50 551.79Z" fill="#ee9d6e"/>
<path d="M317.50 551.79H319.31L348.31 570.97L319.31 590.15H317.50Z" fill="#c9241d"/>
<path d="M317.50 551.79H375.50V552.99L347.41 571.57Z" fill="#ee9d6e"/>
<path d="M375.50 551.79V590.15H373.69L345.59 571.57Z" fill="#f4daab"/>
<path d="M317.50 590.15L346.50 570.97L375.50 590.15Z" fill="#efbb86"/>
<path d="M375.50 551.79H377.31L406.31 570.97L377.31 590.15H375.50Z" fill="#c9241d"/>
<path d="M375.50 551.79H433.50V552.99L405.41 571.57Z" fill="#eb7b56"/>
<path d="M433.50 551.79V590.15H431.69L403.59 571.57Z" fill="#efbd89"/>
<path d="M375.50 590.15L404.50 570.97L433.50 590.15Z" fill="#efa776"/>
<path d="M433.50 551.79H435.31L464.31 570.97L435.31 590.15H433.50Z" fill="#a31713"/>
<path d="M433.50 551.79H491.50V552.99L463.41 571.57Z" fill="#ed8a61"/>
<path d="M491.50 551.79V590.15H489.69L461.59 571.57Z" fill="#f4daab"/>
<path d="M433.50 590.15L462.50 570.97L491.50 590.15Z" fill="#efaa79"/>
<path d="M317.50 590.15H319.31L348.31 609.33L319.31 628.51H317.50Z" fill="#c9241d"/>
<path d="M317.50 590.15H375.50V591.35L347.41 609.93Z" fill="#ee9d6e"/>
<path d="M375.50 590.15V628.51H373.69L345.59 609.93Z" fill="#f4daab"/>
<path d="M317.50 628.51L346.50 609.33L375.50 628.51Z" fill="#efbb86"/>
<path d="M375.50 590.15H377.31L406.31 609.33L377.31 628.51H375.50Z" fill="#c9241d"/>
<path d="M375.50 590.15H433.50V591.35L405.41 609.93Z" fill="#ea7452"/>
<path d="M433.50 590.15V628.51H431.69L403.59 609.93Z" fill="#efbd89"/>
<path d="M375.50 628.51L404.50 609.33L433.50 628.51Z" fill="#eea272"/>
<path d="M433.50 590.15H435.31L464.31 609.33L435.31 628.51H433.50Z" fill="#a31713"/>
<path d="M433.50 590.15H491.50V591.35L463.41 609.93Z" fill="#eb7b56"/>
<path d="M491.50 590.15V628.51H489.69L461.59 609.93Z" fill="#f4daab"/>
<path d="M433.50 628.51L462.50 609.33L491.50 628.51Z" fill="#eea272"/>
<path d="M317.50 628.51H319.31L348.31 647.69L319.31 666.87H317.50Z" fill="#ec865e"/>
<path d="M317.50 628.51H375.50V629.71L347.41 648.29Z" fill="#f3d5a2"/>
<path d="M375.50 628.51V666.87H373.69L345.59 648.29Z" fill="#f9efd6"/>
<path d="M317.50 666.87L346.50 647.69L375.50 666.87Z" fill="#f5e0b7"/>
<path d="M375.50 628.51H377.31L406.31 647.69L377.31 666.87H375.50Z" fill="#eb7b56"/>
<path d="M375.50 628.51H433.50V629.71L405.41 648.29Z" fill="#f0c18c"/>
<path d="M433.50 628.51V666.87H431.69L403.59 648.29Z" fill="#f4dcae"/>
<path d="M375.50 666.87L404.50 647.69L433.50 666.87Z" fill="#f2d2a0"/>
<path d="M433.50 628.51H435.31L464.31 647.69L435.31 666.87H433.50Z" fill="#e75d43"/>
<path d="M433.50 628.51H491.50V629.71L463.41 648.29Z" fill="#f0c490"/>
<path d="M491.50 628.51V666.87H489.69L461.59 648.29Z" fill="#f9efd6"/>
<path d="M433.50 666.87L462.50 647.69L491.50 666.87Z" fill="#f2d2a0"/>
</g>
<path d="M317.50 53.50H491.50M317.50 91.50H491.50M317.50 129.50H491.50M317.50 168.50H491.50M317.50 206.50H491.50M317.50 244.50H491.50M317.50 283.50H491.50M317.50 321.50H491.50M317.50 359.50H491.50M317.50 398.50H491.50M317.50 436.50H491.50M317.50 475.50H491.50M317.50 513.50H491.50M317.50 551.50H491.50M317.50 590.50H491.50M317.50 628.50H491.50M375.50 14.75V666.87M433.50 14.75V666.87" stroke="#7f7f7f" stroke-width="1" fill="none"/>
<rect x="317.50" y="14.50" width="174.00" height="652.37" fill="none" stroke="#4d4d4d" stroke-width="1.1"/>
<text x="404.50" y="11" text-anchor="middle">RMSE</text>
<text x="346.50" y="683.7" text-anchor="middle">tas</text>
<text x="404.50" y="683.7" text-anchor="middle">tasmax</text>
<text x="462.50" y="683.7" text-anchor="middle">tasmin</text>
<path d="M346.50 666.87v3.6M404.50 666.87v3.6M462.50 666.87v3.6" stroke="#222" stroke-width="0.9" fill="none"/>
<rect x="508.50" y="14.75" width="174.00" height="652.12" fill="#7f7f7f"/>
<g>
<path d="M508.50 14.75H510.31L539.31 33.93L510.31 53.11H508.50Z" fill="#8cc1dc"/>
<path d="M508.50 14.75H566.50V15.95L538.41 34.53Z" fill="#9ac9e1"/>
<path d="M566.50 14.75V53.11H564.69L536.59 34.53Z" fill="#3f78b8"/>
<path d="M508.50 53.11L537.50 33.93L566.50 53.11Z" fill="#abd2e6"/>
<path d="M566.50 14.75H568.31L597.31 33.93L568.31 53.11H566.50Z" fill="#98c8e0"/>
<path d="M566.50 14.75H624.50V15.95L596.41 34.53Z" fill="#78b4d6"/>
<path d="M624.50 14.75V53.11H622.69L594.59 34.53Z" fill="#1c3571"/>
<path d="M566.50 53.11L595.50 33.93L624.50 53.11Z" fill="#98c8e0"/>
<path d="M624.50 14.75H626.31L655.31 33.93L626.31 53.11H624.50Z" fill="#72afd4"/>
<path d="M624.50 14.75H682.50V15.95L654.41 34.53Z" fill="#8fc2dd"/>
<path d="M682.50 14.75V53.11H680.69L652.59 34.53Z" fill="#4682bf"/>
<path d="M624.50 53.11L653.50 33.93L682.50 53.11Z" fill="#84bbda"/>
<path d="M508.50 53.11H510.31L539.31 72.29L510.31 91.47H508.50Z" fill="#98c8e0"/>
<path d="M508.50 53.11H566.50V54.31L538.41 72.89Z" fill="#98c8e0"/>
<path d="M566.50 53.11V91.47H564.69L536.59 72.89Z" fill="#3f78b8"/>
<path d="M508.50 91.47L537.50 72.29L566.50 91.47Z" fill="#abd2e6"/>
<path d="M566.50 53.11H568.31L597.31 72.29L568.31 91.47H566.50Z" fill="#a0cce3"/>
<path d="M566.50 53.11H624.50V54.31L596.41 72.89Z" fill="#78b4d6"/>
<path d="M624.50 53.11V91.47H622.69L594.59 72.89Z" fill="#1c3571"/>
<path d="M566.50 91.47L595.50 72.29L624.50 91.47Z" fill="#9ac9e1"/>
<path d="M624.50 53.11H626.31L655.31 72.29L626.31 91.47H624.50Z" fill="#78b4d6"/>
<path d="M624.50 53.11H682.50V54.31L654.41 72.89Z" fill="#84bbda"/>
<path d="M682.50 53.11V91.47H680.69L652.59 72.89Z" fill="#437dbc"/>
<path d="M624.50 91.47L653.50 72.29L682.50 91.47Z" fill="#84bbda"/>
<path d="M508.50 91.47H510.31L539.31 110.65L510.31 129.83H508.50Z" fill="#7eb8d8"/>
<path d="M508.50 91.47H566.50V92.67L538.41 111.25Z" fill="#84bbda"/>
<path d="M566.50 91.47V129.83H564.69L536.59 111.25Z" fill="#386fb1"/>
<path d="M508.50 129.83L537.50 110.65L566.50 129.83Z" fill="#a5cfe4"/>
<path d="M566.50 91.47H568.31L597.31 110.65L568.31 129.83H566.50Z" fill="#89bfdb"/>
<path d="M566.50 91.47H624.50V92.67L596.41 111.25Z" fill="#6caad2"/>
<path d="M624.50 91.47V129.83H622.69L594.59 111.25Z" fill="#1c3571"/>
<path d="M566.50 129.83L595.50 110.65L624.50 129.83Z" fill="#95c6df"/>
<path d="M624.50 91.47H626.31L655.31 110.65L626.31 129.83H624.50Z" fill="#61a0cd"/>
<path d="M624.50 91.47H682.50V92.67L654.41 111.25Z" fill="#6caad2"/>
<path d="M682.50 91.47V129.83H680.69L652.59 111.25Z" fill="#386fb1"/>
<path d="M624.50 129.83L653.50 110.65L682.50 129.83Z" fill="#78b4d6"/>
<path d="M508.50 129.83H510.31L539.31 149.01L510.31 168.19H508.50Z" fill="#92c4de"/>
<path d="M508.50 129.83H566.50V131.03L538.41 149.61Z" fill="#95c6df"/>
<path d="M566.50 129.83V168.19H564.69L536.59 149.61Z" fill="#3f78b8"/>
<path d="M508.50 168.19L537.50 149.01L566.50 168.19Z" fill="#abd2e6"/>
<path d="M566.50 129.83H568.31L597.31 149.01L568.31 168.19H566.50Z" fill="#a0cce3"/>
<path d="M566.50 129.83H624.50V131.03L596.41 149.61Z" fill="#7eb8d8"/>
<path d="M624.50 129.83V168.19H622.69L594.59 149.61Z" fill="#1c3571"/>
<path d="M566.50 168.19L595.50 149.01L624.50 168.19Z" fill="#a5cfe4"/>
<path d="M624.50 129.83H626.31L655.31 149.01L626.31 168.19H624.50Z" fill="#78b4d6"/>
<path d="M624.50 129.83H682.50V131.03L654.41 149.61Z" fill="#84bbda"/>
<path d="M682.50 129.83V168.19H680.69L652.59 149.61Z" fill="#4682bf"/>
<path d="M624.50 168.19L653.50 149.01L682.50 168.19Z" fill="#7eb8d8"/>
<path d="M508.50 168.19H510.31L539.31 187.37L510.31 206.55H508.50Z" fill="#92c4de"/>
<path d="M508.50 168.19H566.50V169.39L538.41 187.97Z" fill="#7eb8d8"/>
<path d="M566.50 168.19V206.55H564.69L536.59 187.97Z" fill="#3c74b5"/>
<path d="M508.50 206.55L537.50 187.37L566.50 206.55Z" fill="#a5cfe4"/>
<path d="M566.50 168.19H568.31L597.31 187.37L568.31 206.55H566.50Z" fill="#a0cce3"/>
<path d="M566.50 168.19H624.50V169.39L596.41 187.97Z" fill="#6caad2"/>
<path d="M624.50 168.19V206.55H622.69L594.59 187.97Z" fill="#1c3571"/>
<path d="M566.50 206.55L595.50 187.37L624.50 206.55Z" fill="#98c8e0"/>
<path d="M624.50 168.19H626.31L655.31 187.37L626.31 206.55H624.50Z" fill="#7eb8d8"/>
<path d="M624.50 168.19H682.50V169.39L654.41 187.97Z" fill="#72afd4"/>
<path d="M682.50 168.19V206.55H680.69L652.59 187.97Z" fill="#4682bf"/>
<path d="M624.50 206.55L653.50 187.37L682.50 206.55Z" fill="#7eb8d8"/>
<path d="M508.50 206.55H510.31L539.31 225.73L510.31 244.91H508.50Z" fill="#92c4de"/>
<path d="M508.50 206.55H566.50V207.75L538.41 226.33Z" fill="#7eb8d8"/>
<path d="M566.50 206.55V244.91H564.69L536.59 226.33Z" fill="#3c74b5"/>
<path d="M508.50 244.91L537.50 225.73L566.50 244.91Z" fill="#a5cfe4"/>
<path d="M566.50 206.55H568.31L597.31 225.73L568.31 244.91H566.50Z" fill="#a0cce3"/>
<path d="M566.50 206.55H624.50V207.75L596.41 226.33Z" fill="#6caad2"/>
<path d="M624.50 206.55V244.91H622.69L594.59 226.33Z" fill="#1c3571"/>
<path d="M566.50 244.91L595.50 225.73L624.50 244.91Z" fill="#98c8e0"/>
<path d="M624.50 206.55H626.31L655.31 225.73L626.31 244.91H624.50Z" fill="#7eb8d8"/>
<path d="M624.50 206.55H682.50V207.75L654.41 226.33Z" fill="#72afd4"/>
<path d="M682.50 206.55V244.91H680.69L652.59 226.33Z" fill="#4682bf"/>
<path d="M624.50 244.91L653.50 225.73L682.50 244.91Z" fill="#7eb8d8"/>
<path d="M508.50 244.91H510.31L539.31 264.09L510.31 283.27H508.50Z" fill="#92c4de"/>
<path d="M508.50 244.91H566.50V246.11L538.41 264.69Z" fill="#8cc1dc"/>
<path d="M566.50 244.91V283.27H564.69L536.59 264.69Z" fill="#3c74b5"/>
<path d="M508.50 283.27L537.50 264.09L566.50 283.27Z" fill="#a5cfe4"/>
<path d="M566.50 244.91H568.31L597.31 264.09L568.31 283.27H566.50Z" fill="#a0cce3"/>
<path d="M566.50 244.91H624.50V246.11L596.41 264.69Z" fill="#75b2d5"/>
<path d="M624.50 244.91V283.27H622.69L594.59 264.69Z" fill="#1c3571"/>
<path d="M566.50 283.27L595.50 264.09L624.50 283.27Z" fill="#9ac9e1"/>
<path d="M624.50 244.91H626.31L655.31 264.09L626.31 283.27H624.50Z" fill="#72afd4"/>
<path d="M624.50 244.91H682.50V246.11L654.41 264.69Z" fill="#78b4d6"/>
<path d="M682.50 244.91V283.27H680.69L652.59 264.69Z" fill="#437dbc"/>
<path d="M624.50 283.27L653.50 264.09L682.50 283.27Z" fill="#7eb8d8"/>
<path d="M508.50 283.27H510.31L539.31 302.45L510.31 321.63H508.50Z" fill="#7eb8d8"/>
<path d="M508.50 283.27H566.50V284.47L538.41 303.05Z" fill="#92c4de"/>
<path d="M566.50 283.27V321.63H564.69L536.59 303.05Z" fill="#437dbc"/>
<path d="M508.50 321.63L537.50 302.45L566.50 321.63Z" fill="#a5cfe4"/>
<path d="M566.50 283.27H568.31L597.31 302.45L568.31 321.63H566.50Z" fill="#8fc2dd"/>
<path d="M566.50 283.27H624.50V284.47L596.41 303.05Z" fill="#7eb8d8"/>
<path d="M624.50 283.27V321.63H622.69L594.59 303.05Z" fill="#1c3571"/>
<path d="M566.50 321.63L595.50 302.45L624.50 321.63Z" fill="#9ac9e1"/>
<path d="M624.50 283.27H626.31L655.31 302.45L626.31 321.63H624.50Z" fill="#5b9bcb"/>
<path d="M624.50 283.27H682.50V284.47L654.41 303.05Z" fill="#78b4d6"/>
<path d="M682.50 283.27V321.63H680.69L652.59 303.05Z" fill="#3f78b8"/>
<path d="M624.50 321.63L653.50 302.45L682.50 321.63Z" fill="#78b4d6"/>
<path d="M508.50 321.63H510.31L539.31 340.81L510.31 359.99H508.50Z" fill="#78b4d6"/>
<path d="M508.50 321.63H566.50V322.83L538.41 341.41Z" fill="#89bfdb"/>
<path d="M566.50 321.63V359.99H564.69L536.59 341.41Z" fill="#437dbc"/>
<path d="M508.50 359.99L537.50 340.81L566.50 359.99Z" fill="#abd2e6"/>
<path d="M566.50 321.63H568.31L597.31 340.81L568.31 359.99H566.50Z" fill="#89bfdb"/>
<path d="M566.50 321.63H624.50V322.83L596.41 341.41Z" fill="#78b4d6"/>
<path d="M624.50 321.63V359.99H622.69L594.59 341.41Z" fill="#1c3571"/>
<path d="M566.50 359.99L595.50 340.81L624.50 359.99Z" fill="#a0cce3"/>
<path d="M624.50 321.63H626.31L655.31 340.81L626.31 359.99H624.50Z" fill="#5b9bcb"/>
<path d="M624.50 321.63H682.50V322.83L654.41 341.41Z" fill="#72afd4"/>
<path d="M682.50 321.63V359.99H680.69L652.59 341.41Z" fill="#3f78b8"/>
<path d="M624.50 359.99L653.50 340.81L682.50 359.99Z" fill="#78b4d6"/>
<path d="M508.50 359.99H510.31L539.31 379.17L510.31 398.35H508.50Z" fill="#84bbda"/>
<path d="M508.50 359.99H566.50V361.19L538.41 379.77Z" fill="#87bddb"/>
<path d="M566.50 359.99V398.35H564.69L536.59 379.77Z" fill="#437dbc"/>
<path d="M508.50 398.35L537.50 379.17L566.50 398.35Z" fill="#abd2e6"/>
<path d="M566.50 359.99H568.31L597.31 379.17L568.31 398.35H566.50Z" fill="#98c8e0"/>
<path d="M566.50 359.99H624.50V361.19L596.41 379.77Z" fill="#72afd4"/>
<path d="M624.50 359.99V398.35H622.69L594.59 379.77Z" fill="#1c3571"/>
<path d="M566.50 398.35L595.50 379.17L624.50 398.35Z" fill="#a0cce3"/>
<path d="M624.50 359.99H626.31L655.31 379.17L626.31 398.35H624.50Z" fill="#67a5cf"/>
<path d="M624.50 359.99H682.50V361.19L654.41 379.77Z" fill="#78b4d6"/>
<path d="M682.50 359.99V398.35H680.69L652.59 379.77Z" fill="#437dbc"/>
<path d="M624.50 398.35L653.50 379.17L682.50 398.35Z" fill="#7eb8d8"/>
<path d="M508.50 398.35H510.31L539.31 417.53L510.31 436.71H508.50Z" fill="#84bbda"/>
<path d="M508.50 398.35H566.50V399.55L538.41 418.13Z" fill="#8fc2dd"/>
<path d="M566.50 398.35V436.71H564.69L536.59 418.13Z" fill="#4e8cc4"/>
<path d="M508.50 436.71L537.50 417.53L566.50 436.71Z" fill="#b0d5e8"/>
<path d="M566.50 398.35H568.31L597.31 417.53L568.31 436.71H566.50Z" fill="#89bfdb"/>
<path d="M566.50 398.35H624.50V399.55L596.41 418.13Z" fill="#78b4d6"/>
<path d="M624.50 398.35V436.71H622.69L594.59 418.13Z" fill="#1d3874"/>
<path d="M566.50 436.71L595.50 417.53L624.50 436.71Z" fill="#9ac9e1"/>
<path d="M624.50 398.35H626.31L655.31 417.53L626.31 436.71H624.50Z" fill="#6caad2"/>
<path d="M624.50 398.35H682.50V399.55L654.41 418.13Z" fill="#84bbda"/>
<path d="M682.50 398.35V436.71H680.69L652.59 418.13Z" fill="#5796c9"/>
<path d="M624.50 436.71L653.50 417.53L682.50 436.71Z" fill="#8fc2dd"/>
<path d="M508.50 436.71H510.31L539.31 455.89L510.31 475.07H508.50Z" fill="#95c6df"/>
<path d="M508.50 436.71H566.50V437.91L538.41 456.49Z" fill="#8fc2dd"/>
<path d="M566.50 436.71V475.07H564.69L536.59 456.49Z" fill="#3366aa"/>
<path d="M508.50 475.07L537.50 455.89L566.50 475.07Z" fill="#abd2e6"/>
<path d="M566.50 436.71H568.31L597.31 455.89L568.31 475.07H566.50Z" fill="#a0cce3"/>
<path d="M566.50 436.71H624.50V437.91L596.41 456.49Z" fill="#78b4d6"/>
<path d="M624.50 436.71V475.07H622.69L594.59 456.49Z" fill="#1c3571"/>
<path d="M566.50 475.07L595.50 455.89L624.50 475.07Z" fill="#a0cce3"/>
<path d="M624.50 436.71H626.31L655.31 455.89L626.31 475.07H624.50Z" fill="#78b4d6"/>
<path d="M624.50 436.71H682.50V437.91L654.41 456.49Z" fill="#7bb6d7"/>
<path d="M682.50 436.71V475.07H680.69L652.59 456.49Z" fill="#3f78b8"/>
<path d="M624.50 475.07L653.50 455.89L682.50 475.07Z" fill="#84bbda"/>
<path d="M508.50 475.07H510.31L539.31 494.25L510.31 513.43H508.50Z" fill="#98c8e0"/>
<path d="M508.50 475.07H566.50V476.27L538.41 494.85Z" fill="#8fc2dd"/>
<path d="M566.50 475.07V513.43H564.69L536.59 494.85Z" fill="#3c74b5"/>
<path d="M508.50 513.43L537.50 494.25L566.50 513.43Z" fill="#a5cfe4"/>
<path d="M566.50 475.07H568.31L597.31 494.25L568.31 513.43H566.50Z" fill="#a0cce3"/>
<path d="M566.50 475.07H624.50V476.27L596.41 494.85Z" fill="#78b4d6"/>
<path d="M624.50 475.07V513.43H622.69L594.59 494.85Z" fill="#1c3571"/>
<path d="M566.50 513.43L595.50 494.25L624.50 513.43Z" fill="#a0cce3"/>
<path d="M624.50 475.07H626.31L655.31 494.25L626.31 513.43H624.50Z" fill="#7bb6d7"/>
<path d="M624.50 475.07H682.50V476.27L654.41 494.85Z" fill="#7eb8d8"/>
<path d="M682.50 475.07V513.43H680.69L652.59 494.85Z" fill="#3f78b8"/>
<path d="M624.50 513.43L653.50 494.25L682.50 513.43Z" fill="#84bbda"/>
<path d="M508.50 513.43H510.31L539.31 532.61L510.31 551.79H508.50Z" fill="#92c4de"/>
<path d="M508.50 513.43H566.50V514.63L538.41 533.21Z" fill="#98c8e0"/>
<path d="M566.50 513.43V551.79H564.69L536.59 533.21Z" fill="#437dbc"/>
<path d="M508.50 551.79L537.50 532.61L566.50 551.79Z" fill="#a5cfe4"/>
<path d="M566.50 513.43H568.31L597.31 532.61L568.31 551.79H566.50Z" fill="#a0cce3"/>
<path d="M566.50 513.43H624.50V514.63L596.41 533.21Z" fill="#7eb8d8"/>
<path d="M624.50 513.43V551.79H622.69L594.59 533.21Z" fill="#234485"/>
<path d="M566.50 551.79L595.50 532.61L624.50 551.79Z" fill="#9ac9e1"/>
<path d="M624.50 513.43H626.31L655.31 532.61L626.31 551.79H624.50Z" fill="#6caad2"/>
<path d="M624.50 513.43H682.50V514.63L654.41 533.21Z" fill="#84bbda"/>
<path d="M682.50 513.43V551.79H680.69L652.59 533.21Z" fill="#437dbc"/>
<path d="M624.50 551.79L653.50 532.61L682.50 551.79Z" fill="#7eb8d8"/>
<path d="M508.50 551.79H510.31L539.31 570.97L510.31 590.15H508.50Z" fill="#84bbda"/>
<path d="M508.50 551.79H566.50V552.99L538.41 571.57Z" fill="#89bfdb"/>
<path d="M566.50 551.79V590.15H564.69L536.59 571.57Z" fill="#3f78b8"/>
<path d="M508.50 590.15L537.50 570.97L566.50 590.15Z" fill="#b0d5e8"/>
<path d="M566.50 551.79H568.31L597.31 570.97L568.31 590.15H566.50Z" fill="#89bfdb"/>
<path d="M566.50 551.79H624.50V552.99L596.41 571.57Z" fill="#7bb6d7"/>
<path d="M624.50 551.79V590.15H622.69L594.59 571.57Z" fill="#1c3571"/>
<path d="M566.50 590.15L595.50 570.97L624.50 590.15Z" fill="#a0cce3"/>
<path d="M624.50 551.79H626.31L655.31 570.97L626.31 590.15H624.50Z" fill="#6caad2"/>
<path d="M624.50 551.79H682.50V552.99L654.41 571.57Z" fill="#7eb8d8"/>
<path d="M682.50 551.79V590.15H680.69L652.59 571.57Z" fill="#3f78b8"/>
<path d="M624.50 590.15L653.50 570.97L682.50 590.15Z" fill="#89bfdb"/>
<path d="M508.50 590.15H510.31L539.31 609.33L510.31 628.51H508.50Z" fill="#84bbda"/>
<path d="M508.50 590.15H566.50V591.35L538.41 609.93Z" fill="#89bfdb"/>
<path d="M566.50 590.15V628.51H564.69L536.59 609.93Z" fill="#3f78b8"/>
<path d="M508.50 628.51L537.50 609.33L566.50 628.51Z" fill="#a5cfe4"/>
<path d="M566.50 590.15H568.31L597.31 609.33L568.31 628.51H566.50Z" fill="#89bfdb"/>
<path d="M566.50 590.15H624.50V591.35L596.41 609.93Z" fill="#7eb8d8"/>
<path d="M624.50 590.15V628.51H622.69L594.59 609.93Z" fill="#234485"/>
<path d="M566.50 628.51L595.50 609.33L624.50 628.51Z" fill="#a0cce3"/>
<path d="M624.50 590.15H626.31L655.31 609.33L626.31 628.51H624.50Z" fill="#6caad2"/>
<path d="M624.50 590.15H682.50V591.35L654.41 609.93Z" fill="#78b4d6"/>
<path d="M682.50 590.15V628.51H680.69L652.59 609.93Z" fill="#437dbc"/>
<path d="M624.50 628.51L653.50 609.33L682.50 628.51Z" fill="#7eb8d8"/>
<path d="M508.50 628.51H510.31L539.31 647.69L510.31 666.87H508.50Z" fill="#d1e6f2"/>
<path d="M508.50 628.51H566.50V629.71L538.41 648.29Z" fill="#cde3f0"/>
<path d="M566.50 628.51V666.87H564.69L536.59 648.29Z" fill="#7eb8d8"/>
<path d="M508.50 666.87L537.50 647.69L566.50 666.87Z" fill="#daebf5"/>
<path d="M566.50 628.51H568.31L597.31 647.69L568.31 666.87H566.50Z" fill="#d6e8f3"/>
<path d="M566.50 628.51H624.50V629.71L596.41 648.29Z" fill="#c4dfee"/>
<path d="M624.50 628.51V666.87H622.69L594.59 648.29Z" fill="#5b9bcb"/>
<path d="M566.50 666.87L595.50 647.69L624.50 666.87Z" fill="#d1e6f2"/>
<path d="M624.50 628.51H626.31L655.31 647.69L626.31 666.87H624.50Z" fill="#c9e1ef"/>
<path d="M624.50 628.51H682.50V629.71L654.41 648.29Z" fill="#c9e1ef"/>
<path d="M682.50 628.51V666.87H680.69L652.59 648.29Z" fill="#7eb8d8"/>
<path d="M624.50 666.87L653.50 647.69L682.50 666.87Z" fill="#cde3f0"/>
</g>
<path d="M508.50 53.50H682.50M508.50 91.50H682.50M508.50 129.50H682.50M508.50 168.50H682.50M508.50 206.50H682.50M508.50 244.50H682.50M508.50 283.50H682.50M508.50 321.50H682.50M508.50 359.50H682.50M508.50 398.50H682.50M508.50 436.50H682.50M508.50 475.50H682.50M508.50 513.50H682.50M508.50 551.50H682.50M508.50 590.50H682.50M508.50 628.50H682.50M566.50 14.75V666.87M624.50 14.75V666.87" stroke="#7f7f7f" stroke-width="1" fill="none"/>
<rect x="508.50" y="14.50" width="174.00" height="652.37" fill="none" stroke="#4d4d4d" stroke-width="1.1"/>
<text x="595.50" y="11" text-anchor="middle">Cor</text>
<text x="537.50" y="683.7" text-anchor="middle">tas</text>
<text x="595.50" y="683.7" text-anchor="middle">tasmax</text>
<text x="653.50" y="683.7" text-anchor="middle">tasmin</text>
<path d="M537.50 666.87v3.6M595.50 666.87v3.6M653.50 666.87v3.6" stroke="#222" stroke-width="0.9" fill="none"/>
<text x="120.2" y="39.08" text-anchor="end">ACCESS-CM2</text>
<text x="120.2" y="77.44" text-anchor="end">ACCESS-ESM1-5</text>
<text x="120.2" y="115.80" text-anchor="end">CMCC-ESM2</text>
<text x="120.2" y="154.16" text-anchor="end">CanESM5</text>
<text x="120.2" y="192.52" text-anchor="end">EC-Earth3</text>
<text x="120.2" y="230.88" text-anchor="end">EC-Earth3-Veg-LR</text>
<text x="120.2" y="269.24" text-anchor="end">GFDL-ESM4</text>
<text x="120.2" y="307.60" text-anchor="end">INM-CM4-8</text>
<text x="120.2" y="345.96" text-anchor="end">INM-CM5-0</text>
<text x="120.2" y="384.32" text-anchor="end">IPSL-CM6A-LR</text>
<text x="120.2" y="422.68" text-anchor="end">MIROC6</text>
<text x="120.2" y="461.04" text-anchor="end">MPI-ESM1-2-HR</text>
<text x="120.2" y="499.40" text-anchor="end">MPI-ESM1-2-LR</text>
<text x="120.2" y="537.76" text-anchor="end">MRI-ESM2-0</text>
<text x="120.2" y="576.12" text-anchor="end">NorESM2-LM</text>
<text x="120.2" y="614.48" text-anchor="end">NorESM2-MM</text>
<text x="120.2" y="652.84" text-anchor="end">MME</text>
<path d="M126.5 33.93h-3.6M126.5 72.29h-3.6M126.5 110.65h-3.6M126.5 149.01h-3.6M126.5 187.37h-3.6M126.5 225.73h-3.6M126.5 264.09h-3.6M126.5 302.45h-3.6M126.5 340.81h-3.6M126.5 379.17h-3.6M126.5 417.53h-3.6M126.5 455.89h-3.6M126.5 494.25h-3.6M126.5 532.61h-3.6M126.5 570.97h-3.6M126.5 609.33h-3.6M126.5 647.69h-3.6" stroke="#222" stroke-width="0.9" fill="none"/>
<path d="M153.5 705.4L151.5 705.4L126.3 711.55L151.5 717.7L153.5 717.7Z" fill="#fdfaec"/>
<path d="M656.2 705.4L658.2 705.4L683.4000000000001 711.55L658.2 717.7L656.2 717.7Z" fill="#7c1010"/>
<rect x="152.5" y="705.4" width="504.70000000000005" height="12.300000000000068" fill="url(#gr)"/>
<path d="M126.3 711.55L151.5 705.4H658.2L683.4000000000001 711.55L658.2 717.7H151.5Z" fill="none" stroke="#6a6a6a" stroke-width="0.8" stroke-linejoin="miter"/>
<text x="151.50" y="734.50" text-anchor="middle">1.25</text>
<text x="214.84" y="734.50" text-anchor="middle">1.50</text>
<text x="278.18" y="734.50" text-anchor="middle">1.75</text>
<text x="341.51" y="734.50" text-anchor="middle">2.00</text>
<text x="404.85" y="734.50" text-anchor="middle">2.25</text>
<text x="468.19" y="734.50" text-anchor="middle">2.50</text>
<text x="531.53" y="734.50" text-anchor="middle">2.75</text>
<text x="594.86" y="734.50" text-anchor="middle">3.00</text>
<text x="658.20" y="734.50" text-anchor="middle">3.25</text>
<path d="M151.50 717.7v3.4M214.84 717.7v3.4M278.18 717.7v3.4M341.51 717.7v3.4M404.85 717.7v3.4M468.19 717.7v3.4M531.53 717.7v3.4M594.86 717.7v3.4M658.20 717.7v3.4" stroke="#444" stroke-width="0.9" fill="none"/>
<text x="405.35" y="751.90" text-anchor="middle">MAE (K)</text>
<path d="M153.5 764.75L151.5 764.75L126.3 771.0L151.5 777.25L153.5 777.25Z" fill="#fdfaec"/>
<path d="M656.2 764.75L658.2 764.75L683.4000000000001 771.0L658.2 777.25L656.2 777.25Z" fill="#7c1010"/>
<rect x="152.5" y="764.75" width="504.70000000000005" height="12.5" fill="url(#gr)"/>
<path d="M126.3 771.0L151.5 764.75H658.2L683.4000000000001 771.0L658.2 777.25H151.5Z" fill="none" stroke="#6a6a6a" stroke-width="0.8" stroke-linejoin="miter"/>
<text x="151.50" y="794.05" text-anchor="middle">1.5</text>
<text x="235.95" y="794.05" text-anchor="middle">2.0</text>
<text x="320.40" y="794.05" text-anchor="middle">2.5</text>
<text x="404.85" y="794.05" text-anchor="middle">3.0</text>
<text x="489.30" y="794.05" text-anchor="middle">3.5</text>
<text x="573.75" y="794.05" text-anchor="middle">4.0</text>
<text x="658.20" y="794.05" text-anchor="middle">4.5</text>
<path d="M151.50 777.25v3.4M235.95 777.25v3.4M320.40 777.25v3.4M404.85 777.25v3.4M489.30 777.25v3.4M573.75 777.25v3.4M658.20 777.25v3.4" stroke="#444" stroke-width="0.9" fill="none"/>
<text x="405.35" y="811.45" text-anchor="middle">RMSE (K)</text>
<path d="M153.5 823.95L151.5 823.95L126.3 830.2L151.5 836.45L153.5 836.45Z" fill="#1b326d"/>
<path d="M656.2 823.95L658.2 823.95L683.4000000000001 830.2L658.2 836.45L656.2 836.45Z" fill="#fcfeff"/>
<rect x="152.5" y="823.95" width="504.70000000000005" height="12.5" fill="url(#gb)"/>
<path d="M126.3 830.2L151.5 823.95H658.2L683.4000000000001 830.2L658.2 836.45H151.5Z" fill="none" stroke="#6a6a6a" stroke-width="0.8" stroke-linejoin="miter"/>
<text x="151.50" y="853.25" text-anchor="middle">0.93</text>
<text x="235.95" y="853.25" text-anchor="middle">0.94</text>
<text x="320.40" y="853.25" text-anchor="middle">0.95</text>
<text x="404.85" y="853.25" text-anchor="middle">0.96</text>
<text x="489.30" y="853.25" text-anchor="middle">0.97</text>
<text x="573.75" y="853.25" text-anchor="middle">0.98</text>
<text x="658.20" y="853.25" text-anchor="middle">0.99</text>
<path d="M151.50 836.45v3.4M235.95 836.45v3.4M320.40 836.45v3.4M404.85 836.45v3.4M489.30 836.45v3.4M573.75 836.45v3.4M658.20 836.45v3.4" stroke="#444" stroke-width="0.9" fill="none"/>
<text x="405.35" y="870.65" text-anchor="middle">Cor</text>
<path d="M18.3 737.4H105.7V803.8H18.3ZM18.3 737.4L105.7 803.8M105.7 737.4L18.3 803.8" fill="none" stroke="#231815" stroke-width="1"/>
<text x="62.4" y="754.5" class="b" text-anchor="middle" font-weight="bold" font-size="14.4px" fill="#231815">MAM</text>
<text x="37.85" y="776.4" class="b" text-anchor="middle" font-weight="bold" font-size="14.4px" fill="#231815">DJF</text>
<text x="90.4" y="776.4" class="b" text-anchor="middle" font-weight="bold" font-size="14.4px" fill="#231815">JJA</text>
<text x="61.05" y="796.2" class="b" text-anchor="middle" font-weight="bold" font-size="14.4px" fill="#231815">SON</text>
</svg>
</body></html>
